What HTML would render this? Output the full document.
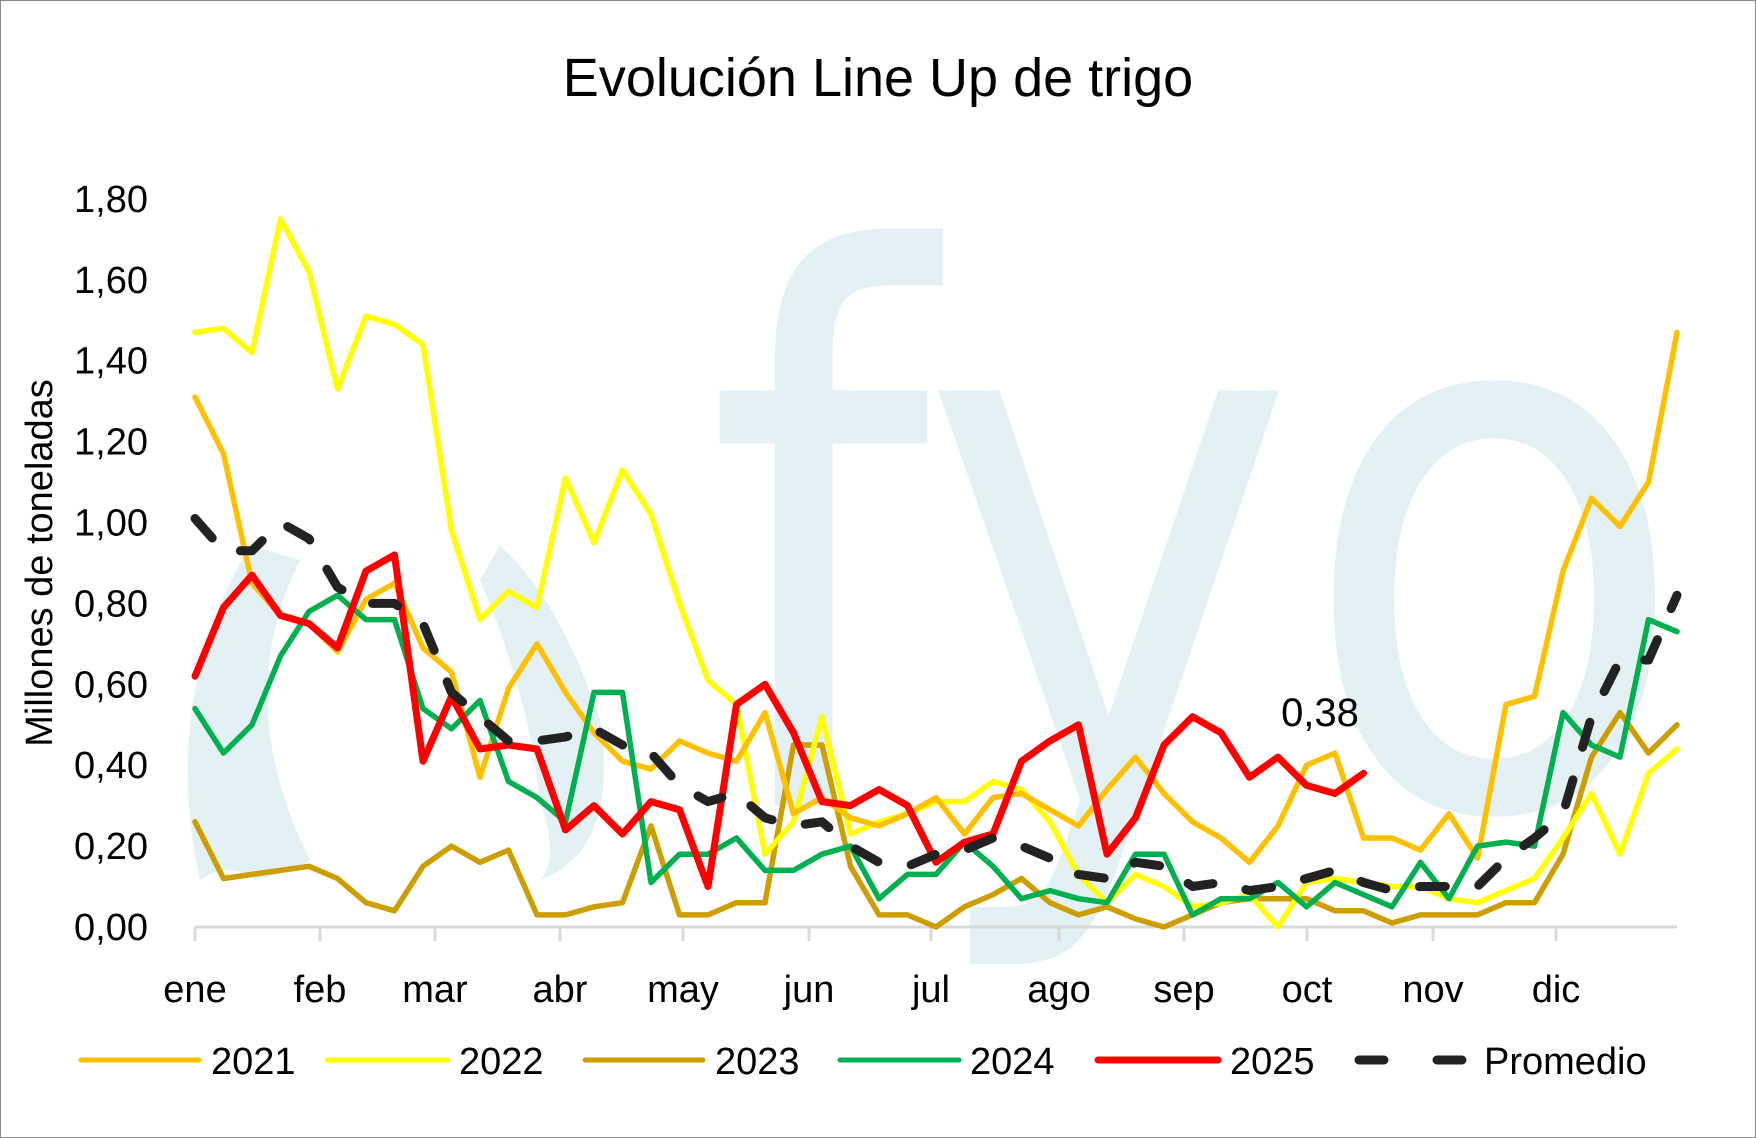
<!DOCTYPE html>
<html><head><meta charset="utf-8"><style>
body{margin:0;background:#fff}
svg{display:block}
text{font-family:"Liberation Sans","DejaVu Sans",sans-serif;fill:#000}
</style></head><body>
<svg id="s" width="1756" height="1138" viewBox="0 0 1756 1138" xmlns="http://www.w3.org/2000/svg">
<rect x="0.5" y="0.5" width="1755" height="1137" fill="#fff" stroke="#888" stroke-width="1"/>
<g fill="#e3f1f5">
<text x="705" y="806" font-size="760" textLength="985" lengthAdjust="spacingAndGlyphs" style="fill:#e3f1f5;font-family:'DejaVu Sans',sans-serif">fyo</text>
<path d="M250 545 Q160 700 200 880 Q230 860 255 880 Q300 870 310 860 Q230 700 300 560 Z"/>
<path d="M500 545 Q560 600 600 720 Q620 850 540 880 Q560 860 540 800 Q530 700 480 580 Z"/>
</g>
<g id="grid"></g>
<text x="878" y="96" font-size="54" text-anchor="middle">Evolución Line Up de trigo</text>
<text transform="translate(52,563) rotate(-90)" font-size="38" text-anchor="middle">Millones de toneladas</text>
<text x="1320" y="726" font-size="40" text-anchor="middle">0,38</text>
<g id="lines"></g>
<g id="legend" font-size="38"></g>
</svg>
<script>
const X0=195,X1=1677,Y0=927,YS=80.9/0.2;
const dx=(X1-X0)/52;
const ns="http://www.w3.org/2000/svg";
function el(t,a,p,txt){const e=document.createElementNS(ns,t);for(const k in a)e.setAttribute(k,a[k]);if(txt!==undefined)e.textContent=txt;p.appendChild(e);return e;}
const g=document.getElementById('grid');
el('line',{x1:X0,y1:Y0,x2:X1,y2:Y0,stroke:'#d9d9d9','stroke-width':3},g);
for(let i=0;i<=9;i++){const v=i*0.2;const y=Y0-v*YS;
el('text',{x:148,y:y+13,'font-size':38,'text-anchor':'end'},g,v.toFixed(2).replace('.',','));}
const ticks=[195,320,435,560,683,809,931,1059,1184,1307,1433,1556];
const mon=['ene','feb','mar','abr','may','jun','jul','ago','sep','oct','nov','dic'];
ticks.forEach((t,i)=>{el('line',{x1:t,y1:Y0,x2:t,y2:Y0+14,stroke:'#d9d9d9','stroke-width':3},g);
el('text',{x:t,y:1002,'font-size':38,'text-anchor':'middle'},g,mon[i]);});
const D={
y21:[1.31,1.17,.85,.77,.75,.68,.81,.85,.69,.63,.37,.59,.70,.58,.48,.41,.39,.46,.43,.41,.53,.28,.32,.27,.25,.28,.32,.23,.32,.33,.29,.25,.34,.42,.33,.26,.22,.16,.25,.40,.43,.22,.22,.19,.28,.17,.55,.57,.88,1.06,.99,1.10,1.47],
y22:[1.47,1.48,1.42,1.75,1.62,1.33,1.51,1.49,1.44,.98,.76,.83,.79,1.11,.95,1.13,1.02,.80,.61,.55,.18,.26,.52,.23,.26,.28,.31,.31,.36,.34,.26,.13,.06,.13,.10,.05,.06,.08,0,.11,.12,.11,.10,.10,.07,.06,.09,.12,.22,.33,.18,.38,.44],
y23:[.26,.12,.13,.14,.15,.12,.06,.04,.15,.20,.16,.19,.03,.03,.05,.06,.25,.03,.03,.06,.06,.45,.45,.15,.03,.03,0,.05,.08,.12,.06,.03,.05,.02,0,.03,.06,.07,.07,.07,.04,.04,.01,.03,.03,.03,.06,.06,.18,.42,.53,.43,.50],
y24:[.54,.43,.50,.67,.78,.82,.76,.76,.54,.49,.56,.36,.32,.26,.58,.58,.11,.18,.18,.22,.14,.14,.18,.20,.07,.13,.13,.21,.15,.07,.09,.07,.06,.18,.18,.03,.07,.07,.11,.05,.11,.08,.05,.16,.07,.20,.21,.20,.53,.45,.42,.76,.73],
y25:[.62,.79,.87,.77,.75,.69,.88,.92,.41,.57,.44,.45,.44,.24,.30,.23,.31,.29,.10,.55,.60,.48,.31,.30,.34,.30,.16,.21,.23,.41,.46,.50,.18,.27,.45,.52,.48,.37,.42,.35,.33,.38],
avg:[1.01,.93,.93,1.0,.96,.84,.80,.80,.75,.58,.52,.46,.46,.47,.49,.45,.43,.35,.31,.33,.27,.25,.26,.20,.16,.15,.18,.19,.22,.20,.17,.13,.12,.16,.15,.10,.11,.09,.10,.12,.14,.11,.09,.10,.10,.10,.17,.22,.28,.52,.66,.66,.82]};
const L=document.getElementById('lines');
function pts(a){return a.map((v,i)=>(X0+i*dx).toFixed(1)+','+(Y0-v*YS).toFixed(1)).join(' ');}
const S=[['y23','#cc9e00',5.5],['y22','#ffff00',5.5],['y21','#ffc000',5.5],['y24','#00b050',5.5],['y25','#ff0000',7]];
S.forEach(s=>el('polyline',{points:pts(D[s[0]]),fill:'none',stroke:s[1],'stroke-width':s[2],'stroke-linejoin':'round','stroke-linecap':'round'},L));
el('polyline',{points:pts(D.avg),fill:'none',stroke:'#222','stroke-width':9,'stroke-dasharray':'26 34','stroke-linejoin':'round','stroke-linecap':'round'},L);
const G=document.getElementById('legend');
const lg=[[81,199,211,'2021','#ffc000',5],[327,448,459,'2022','#ffff00',5],[585,703,715,'2023','#cc9e00',5],[840,959,970,'2024','#00b050',5],[1098,1218,1230,'2025','#ff0000',7]];
lg.forEach(l=>{el('line',{x1:l[0],y1:1060,x2:l[1],y2:1060,stroke:l[4],'stroke-width':l[5],'stroke-linecap':'round'},G);
el('text',{x:l[2],y:1074},G,l[3]);});
el('line',{x1:1359,y1:1060,x2:1384,y2:1060,stroke:'#222','stroke-width':9,'stroke-linecap':'round'},G);
el('line',{x1:1437,y1:1060,x2:1462,y2:1060,stroke:'#222','stroke-width':9,'stroke-linecap':'round'},G);
el('text',{x:1484,y:1074},G,'Promedio');
</script>
</body></html>
